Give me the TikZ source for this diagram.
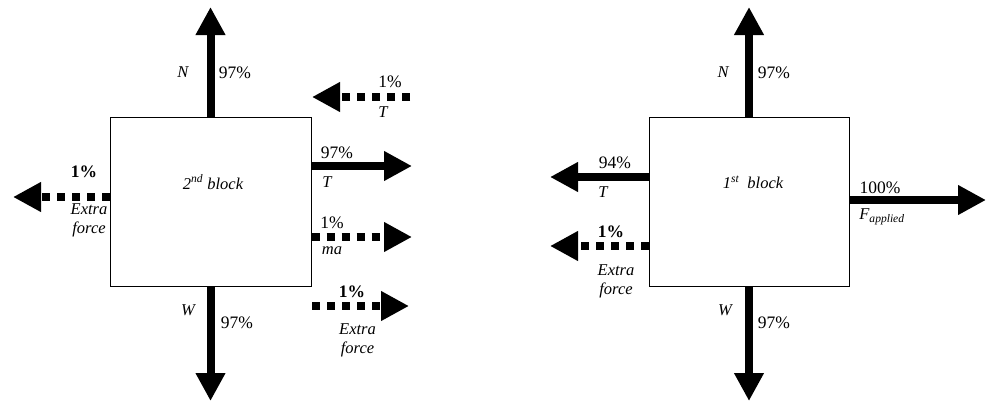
\documentclass[tikz,border=0pt]{standalone}
\usepackage{fontspec}
\setmainfont{Liberation Serif}
\usetikzlibrary{arrows.meta,positioning}

\tikzset{
	block/.style = {draw, line width=1pt, minimum width=201pt, minimum height=169pt, inner sep=0pt},
	force/.style = {line width=8pt, -{Triangle[length=28pt,width=28pt]}},
	extra/.style = {force, dash pattern=on 8pt off 7pt},
	pct/.style = {inner sep=0pt, font=\rmfamily\fontsize{17.5}{19}\selectfont},
	bpct/.style = {pct, font=\rmfamily\fontsize{17.5}{19}\selectfont\bfseries},
	sym/.style = {inner sep=0pt, align=center, font=\rmfamily\fontsize{16.5}{19}\selectfont\itshape}
}

\begin{document}
\begin{tikzpicture}[x=1pt,y=-1pt]
	\useasboundingbox (0,0) rectangle (987,402);
	% 2nd block
	\node[block] (b2) at (210.5,201.5) {};
	\node[sym] (b2txt) at (213,182) {2\textsuperscript{nd} block};
	\coordinate (n2) at (210.5,7);
	\coordinate (w2) at (210.5,401);
	\coordinate (t2) at (412,166);
	\coordinate (ma2) at (412,237);
	\coordinate (tt2s) at (410,97);
	\coordinate (tt2) at (312,97);
	\coordinate (xr2s) at (312,306);
	\coordinate (xr2) at (409,306);
	\coordinate (xl2) at (13,197);
	\draw[force] (b2.north) -- (n2);
	\draw[force] (b2.south) -- (w2);
	\draw[force] (t2 -| b2.east) -- (t2);
	\draw[extra] (ma2 -| b2.east) -- (ma2);
	\draw[extra] (tt2s) -- (tt2);
	\draw[extra] (xr2s) -- (xr2);
	\draw[extra] (xl2 -| b2.west) -- (xl2);
	\node[sym] (n2lab) at (183,72) {N};
	\node[pct] (n2pct) at (235,73) {97\%};
	\node[sym] (w2lab) at (188,310) {W};
	\node[pct] (w2pct) at (237,323) {97\%};
	\node[pct] (tt2pct) at (390,82) {1\%};
	\node[sym] (tt2lab) at (383,112) {T};
	\node[pct] (t2pct) at (337,153) {97\%};
	\node[sym] (t2lab) at (327,182) {T};
	\node[pct] (ma2pct) at (332,223) {1\%};
	\node[sym] (ma2lab) at (332,251) {ma};
	\node[bpct] (xr2pct) at (352,292) {1\%};
	\node[sym] (xr2lab) at (357.5,340.5) {Extra\\force};
	\node[bpct] (xl2pct) at (84,172) {1\%};
	\node[sym] (xl2lab) at (89,220.5) {Extra\\force};
	% 1st block
	\node[block, minimum width=200pt] (b1) at (749,201.5) {};
	\node[sym] (b1txt) at (753,182) {1\textsuperscript{st}\ \ block};
	\coordinate (n1) at (749,7);
	\coordinate (w1) at (749,401);
	\coordinate (t1) at (550,177);
	\coordinate (xl1) at (550,246);
	\coordinate (f1) at (986,200);
	\draw[force] (b1.north) -- (n1);
	\draw[force] (b1.south) -- (w1);
	\draw[force] (t1 -| b1.west) -- (t1);
	\draw[extra] (xl1 -| b1.west) -- (xl1);
	\draw[force] (f1 -| b1.east) -- (f1);
	\node[sym] (n1lab) at (723,72) {N};
	\node[pct] (n1pct) at (774,73) {97\%};
	\node[sym] (w1lab) at (725,310) {W};
	\node[pct] (w1pct) at (774,323) {97\%};
	\node[pct] (t1pct) at (615,163) {94\%};
	\node[sym] (t1lab) at (603,192) {T};
	\node[bpct] (xl1pct) at (611,232) {1\%};
	\node[sym] (xl1lab) at (616,281) {Extra\\force};
	\node[pct] (f1pct) at (880,188) {100\%};
	\node[sym] (f1lab) at (882,217) {F\textsubscript{applied}};
\end{tikzpicture}
\end{document}
